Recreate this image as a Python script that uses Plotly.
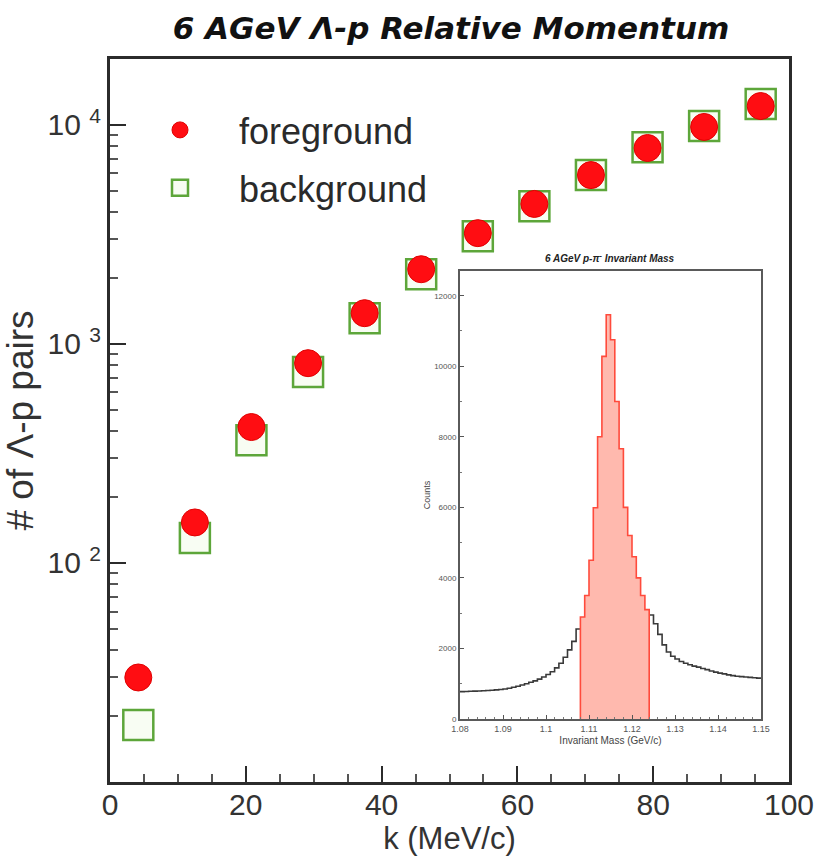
import numpy as np
import plotly.graph_objects as go

# ---------------- data ----------------
k_centers = [4.17, 12.5, 20.83, 29.17, 37.5, 45.83, 54.17, 62.5, 70.83, 79.17, 87.5, 95.83]
foreground = [30, 153, 417, 816, 1380, 2190, 3200, 4350, 5890, 7830, 9770, 12170]
background = [18.2, 130, 363, 743, 1310, 2080, 3100, 4250, 5890, 7900, 9860, 12440]

y_tickvals = [100, 1000, 10000]
y_ticktext = ["10 <sup>2</sup>", "10 <sup>3</sup>", "10 <sup>4</sup>"]

# inset: p-pi- invariant mass histogram (1 MeV bins from 1.080 GeV)
mass_lo = 1.080
mass_bin = 0.001
inset_counts = [775, 780, 785, 790, 795, 800, 810, 815, 825, 835,
                850, 870, 900, 930, 965, 1000, 1040, 1080, 1130, 1190,
                1260, 1340, 1450, 1580, 1750, 1960, 2200, 2550, 2890, 3500,
                4500, 5990, 8000, 10280, 11460, 10750, 9000, 7660, 6000, 5200,
                4600, 4000, 3500, 3100, 2950, 2700, 2400, 2100, 1900, 1780,
                1700, 1630, 1580, 1540, 1500, 1470, 1430, 1400, 1360, 1330,
                1300, 1280, 1250, 1230, 1210, 1200, 1190, 1180, 1170, 1160]
sig_first = 28   # first bin of the selected (shaded) Lambda window
sig_last = 43    # last bin of the selected window
inset_yticks = [0, 2000, 4000, 6000, 8000, 10000, 12000]
inset_yticktext = ["0", "2000", "4000", "6000", "8000", "10000", "12000"]
inset_xticks = [1.08, 1.09, 1.10, 1.11, 1.12, 1.13, 1.14, 1.15]
inset_xticktext = ["1.08", "1.09", "1.1", "1.11", "1.12", "1.13", "1.14", "1.15"]

# ---------------- figure ----------------
W, H = 816, 857
ml, mr, mt, mb = 110, 27, 59, 75
pw, ph = W - ml - mr, H - mt - mb

def px_x(x):
    return (x - ml) / pw

def px_y(y):
    return (H - mb - y) / ph

fig = go.Figure()

fig.add_trace(go.Scatter(
    x=k_centers, y=background, mode="markers", name="background",
    legendgroup="bg", legendrank=2,
    marker=dict(symbol="square", size=30, color="rgba(235,248,220,0.35)",
                line=dict(color="#5da63a", width=2.5)),
))
fig.add_trace(go.Scatter(
    x=k_centers, y=foreground, mode="markers", name="foreground",
    legendgroup="fg", legendrank=1,
    marker=dict(symbol="circle", size=27, color="#ff0d12",
                line=dict(color="#e00000", width=1)),
))

# inset histogram
counts = np.array(inset_counts, dtype=float)
edges = mass_lo + mass_bin * np.arange(len(counts) + 1)

xl = edges[:sig_first + 1]
yl = np.append(counts[:sig_first], counts[sig_first - 1])
fig.add_trace(go.Scatter(x=xl, y=yl, mode="lines", line_shape="hv",
                         line=dict(color="#3a3a3a", width=1.6),
                         xaxis="x2", yaxis="y2", showlegend=False, hoverinfo="skip"))
xr = edges[sig_last + 1:]
yr = np.append(counts[sig_last + 1:], counts[-1])
fig.add_trace(go.Scatter(x=xr, y=yr, mode="lines", line_shape="hv",
                         line=dict(color="#3a3a3a", width=1.6),
                         xaxis="x2", yaxis="y2", showlegend=False, hoverinfo="skip"))

xs = np.concatenate([[edges[sig_first]], edges[sig_first:sig_last + 2], [edges[sig_last + 1]]])
ys = np.concatenate([[0], counts[sig_first:sig_last + 1], [counts[sig_last], 0]])
fig.add_trace(go.Scatter(x=xs, y=ys, mode="lines", line_shape="hv", fill="toself",
                         fillcolor="#ffb9ae",
                         line=dict(color="#ff4b3c", width=1.6),
                         xaxis="x2", yaxis="y2", showlegend=False, hoverinfo="skip"))

font_main = "Liberation Sans, Arial, Helvetica, sans-serif"
font_title = "DejaVu Sans, Liberation Sans, Arial, sans-serif"
axis_col = "#2b2b2b"

fig.update_layout(
    width=W, height=H,
    margin=dict(l=ml, r=mr, t=mt, b=mb, pad=0),
    paper_bgcolor="white", plot_bgcolor="white",
    font=dict(family=font_main, color="#333333"),
    title=dict(text="<b><i>6 AGeV Λ-p Relative Momentum</i></b>",
               x=451 / W, xanchor="center",
               y=1 - 28 / H, yanchor="middle",
               font=dict(size=31, color="#111111", family=font_title)),
    showlegend=True,
    legend=dict(x=px_x(121), y=px_y(100), xanchor="left", yanchor="top",
                bgcolor="rgba(0,0,0,0)", font=dict(size=36, color="#2a2a2a"),
                itemwidth=108, tracegroupgap=8),
    xaxis=dict(range=[0, 100], dtick=20, ticks="inside", ticklen=16, tickwidth=2,
               tickcolor=axis_col, showline=True, linecolor=axis_col, linewidth=3,
               mirror=True, showgrid=False, zeroline=False, automargin=False,
               ticklabelstandoff=-6,
               minor=dict(dtick=5, ticks="inside", ticklen=8, tickwidth=2, tickcolor="#555"),
               tickfont=dict(size=30, color="#333"),
               title=dict(text="k (MeV/c)", font=dict(size=31, color="#333"), standoff=8)),
    yaxis=dict(type="log", range=[1, 4.3], tickvals=y_tickvals, ticktext=y_ticktext,
               ticks="inside", ticklen=16, tickwidth=2, tickcolor=axis_col,
               showline=True, linecolor=axis_col, linewidth=3, mirror=True,
               showgrid=False, zeroline=False, automargin=False,
               minor=dict(tickvals=[20, 30, 40, 50, 60, 70, 80, 90,
                                    200, 300, 400, 500, 600, 700, 800, 900,
                                    2000, 3000, 4000, 5000, 6000, 7000, 8000, 9000],
                          ticks="inside", ticklen=8, tickwidth=2, tickcolor="#555"),
               tickfont=dict(size=30, color="#333"),
               title=dict(text="# of Λ-p pairs", font=dict(size=37, color="#333"), standoff=16)),
    xaxis2=dict(domain=[px_x(460), px_x(761)], anchor="y2", range=[1.08, 1.15],
                tickvals=inset_xticks, ticktext=inset_xticktext,
                ticks="inside", ticklen=4, tickcolor="#555", automargin=False,
                showline=True, linecolor="#5a5a5a", linewidth=2, mirror=True,
                showgrid=False, zeroline=False,
                minor=dict(dtick=0.002, ticks="inside", ticklen=2, tickcolor="#777"),
                tickfont=dict(size=9, color="#555"),
                title=dict(text="Invariant Mass (GeV/c)", font=dict(size=10, color="#444"), standoff=4)),
    yaxis2=dict(domain=[px_y(719), px_y(271)], anchor="x2", range=[0, 12700],
                tickvals=inset_yticks, ticktext=inset_yticktext,
                ticks="inside", ticklen=4, tickcolor="#555", automargin=False,
                showline=True, linecolor="#5a5a5a", linewidth=2, mirror=True,
                showgrid=False, zeroline=False,
                minor=dict(dtick=1000, ticks="inside", ticklen=2, tickcolor="#777"),
                tickfont=dict(size=8, color="#555"),
                title=dict(text="Counts", font=dict(size=9, color="#444"), standoff=2)),
)

fig.add_annotation(text="<b><i>6 AGeV p-π<sup>-</sup> Invariant Mass</i></b>",
                   xref="paper", yref="paper", x=px_x(610), y=px_y(258),
                   xanchor="center", yanchor="middle", showarrow=False,
                   font=dict(size=10, color="#222"))

fig.write_html("out.html")
